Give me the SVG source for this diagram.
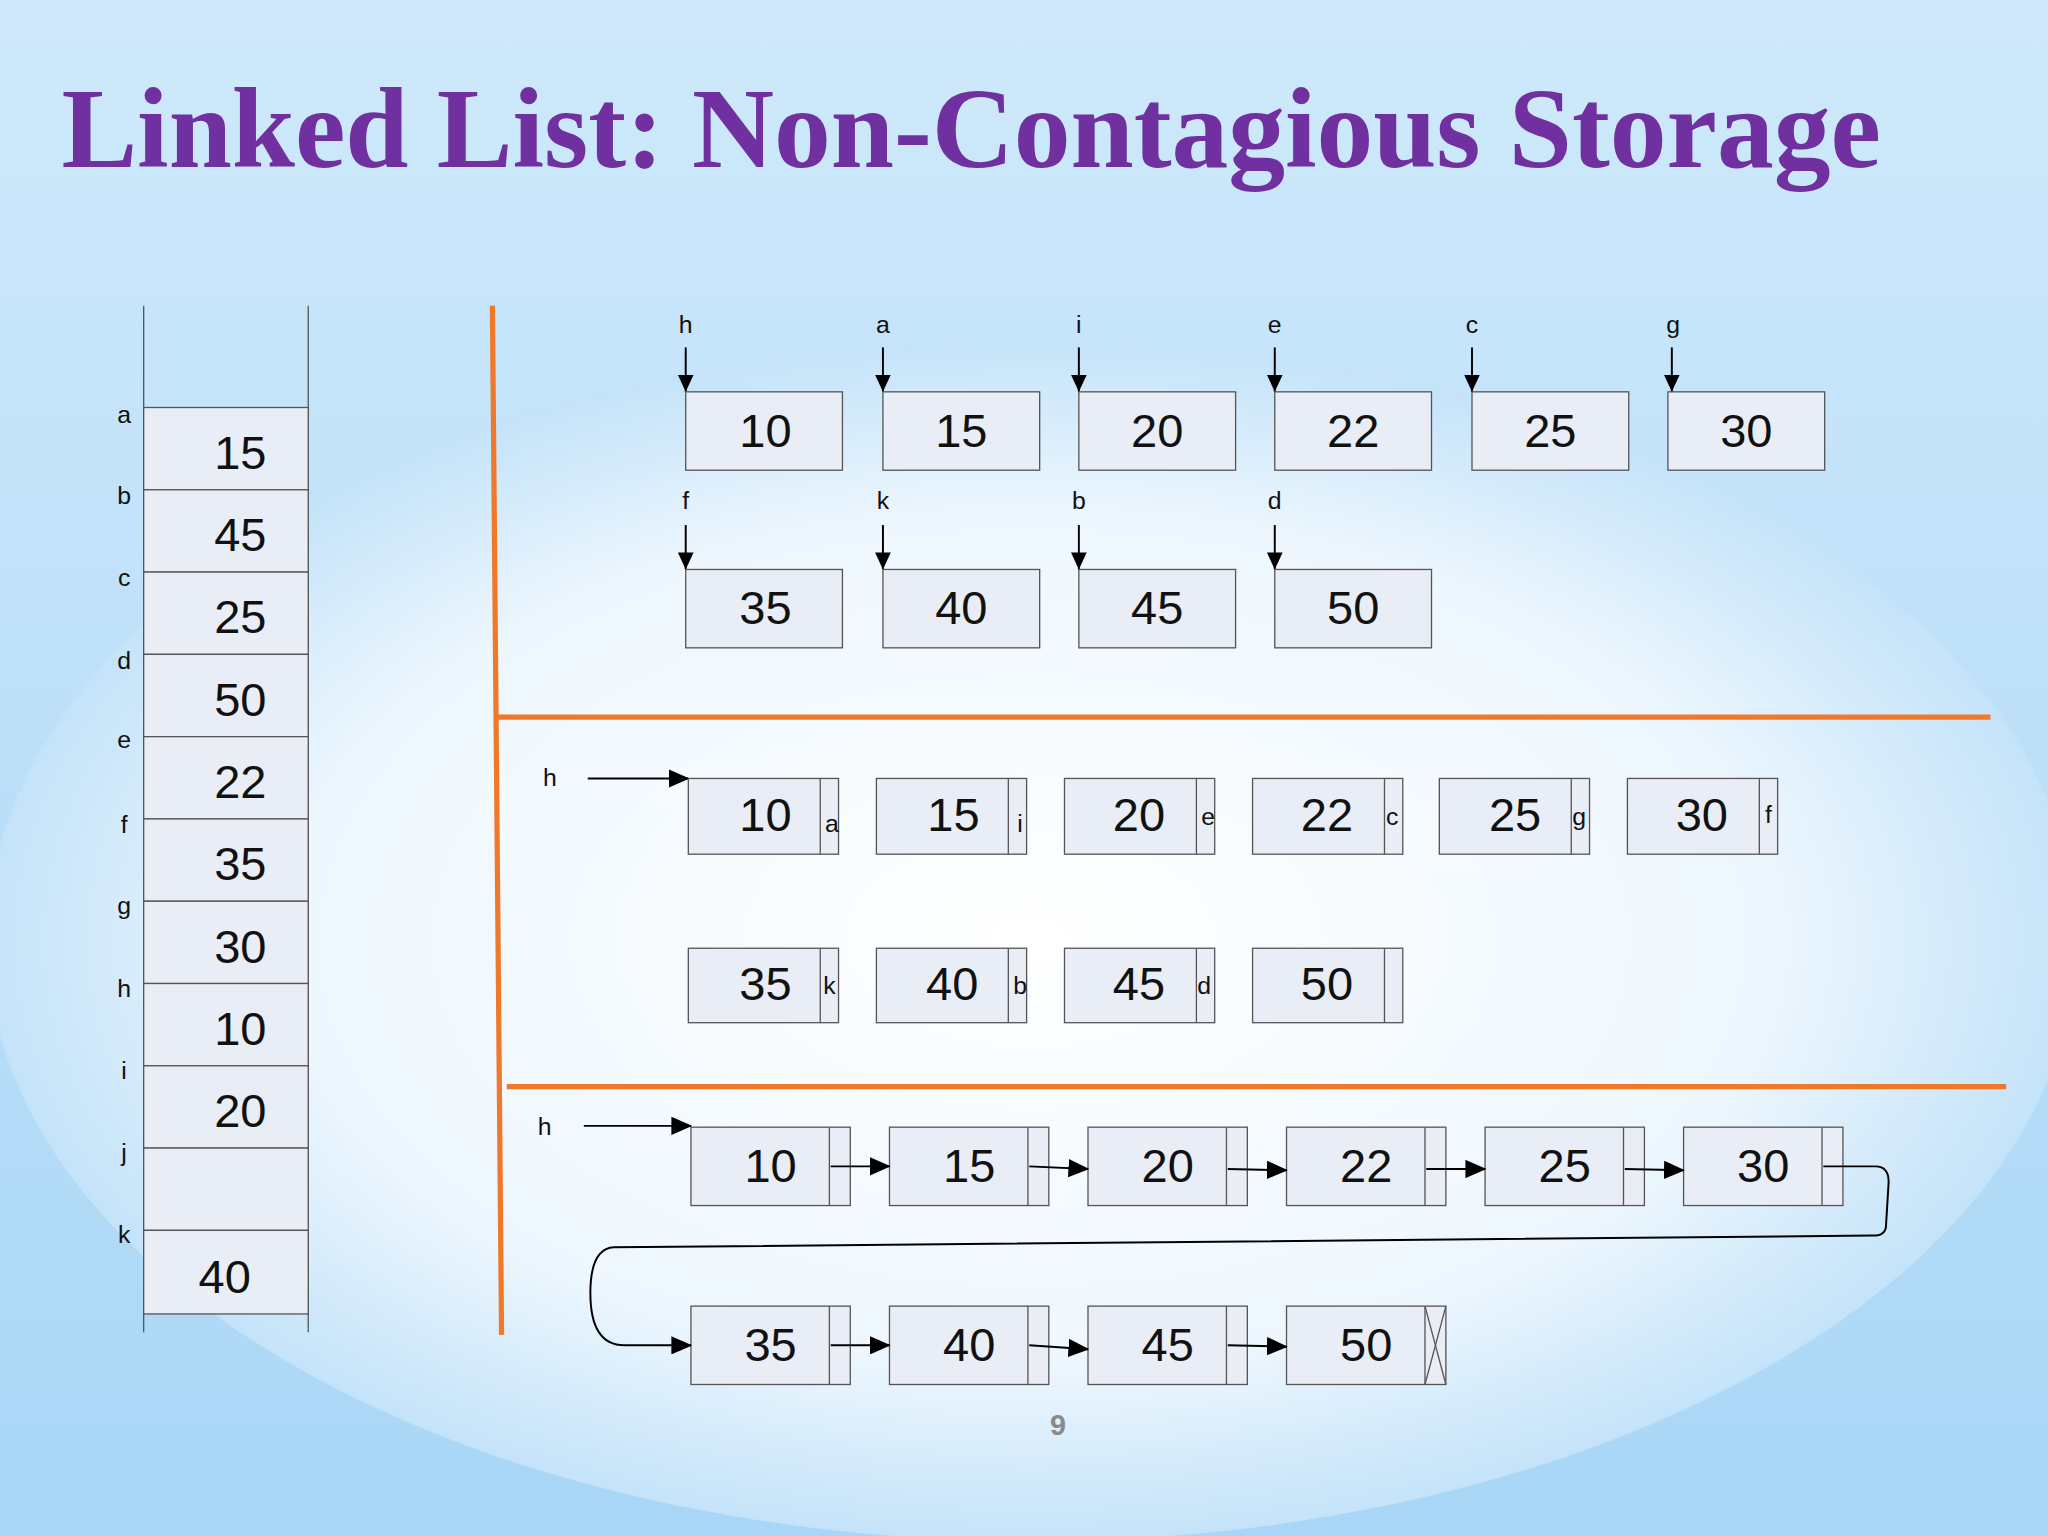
<svg xmlns="http://www.w3.org/2000/svg" width="2048" height="1536" viewBox="0 0 2048 1536">
<defs>
<linearGradient id="bg" x1="0" y1="0" x2="0" y2="1"><stop offset="0" stop-color="#cfe9fb"/><stop offset="1" stop-color="#a9d6f6"/></linearGradient>
<radialGradient id="gl" cx="0.5" cy="0.5" r="0.5"><stop offset="0" stop-color="#ffffff"/><stop offset="0.7" stop-color="#eef7fe"/><stop offset="1" stop-color="#c4e3f9"/></radialGradient>
<marker id="ah" markerWidth="14" markerHeight="14" refX="13" refY="6" orient="auto" markerUnits="userSpaceOnUse"><path d="M0,0 L13,6 L0,12 z" fill="#000"/></marker>
<marker id="ab" markerWidth="16" markerHeight="14" refX="15" refY="7" orient="auto" markerUnits="userSpaceOnUse"><path d="M0,0 L16,7 L0,14 z" fill="#000"/></marker>
<style>
.c{fill:#e9edf5;stroke:#555;stroke-width:1}
.v{font-family:"Liberation Sans",Arial,sans-serif;font-size:36px;fill:#111;text-anchor:middle}
.s{font-family:"Liberation Sans",Arial,sans-serif;font-size:19px;fill:#111;text-anchor:middle}
.o{stroke:#f0782a;stroke-width:4;fill:none}
.w{stroke:#000;stroke-width:1.5;fill:none}
</style>
</defs>
<rect width="2048" height="1536" fill="url(#bg)"/>
<g transform="scale(1.30612)">
<ellipse cx="790" cy="720" rx="800" ry="460" fill="url(#gl)"/>
<text x="47" y="128" font-family="Liberation Serif,serif" font-weight="bold" font-size="87" textLength="1393" fill="#7030a0">Linked List: Non-Contagious Storage</text>
<g id="memory">
<line x1="110" y1="234" x2="110" y2="1020" stroke="#555"/><line x1="236" y1="234" x2="236" y2="1020" stroke="#555"/>
<rect class="c" x="110" y="312" width="126" height="63"/><rect class="c" x="110" y="375" width="126" height="63"/><rect class="c" x="110" y="438" width="126" height="63"/><rect class="c" x="110" y="501" width="126" height="63"/><rect class="c" x="110" y="564" width="126" height="63"/><rect class="c" x="110" y="627" width="126" height="63"/><rect class="c" x="110" y="690" width="126" height="63"/><rect class="c" x="110" y="753" width="126" height="63"/><rect class="c" x="110" y="816" width="126" height="63"/><rect class="c" x="110" y="879" width="126" height="63"/><rect class="c" x="110" y="942" width="126" height="64"/>
<g class="s"><text x="95" y="324">a</text><text x="95" y="386">b</text><text x="95" y="449">c</text><text x="95" y="512">d</text><text x="95" y="573">e</text><text x="95" y="638">f</text><text x="95" y="700">g</text><text x="95" y="763">h</text><text x="95" y="826">i</text><text x="95" y="889">j</text><text x="95" y="952">k</text></g>
<g class="v"><text x="184" y="359">15</text><text x="184" y="422">45</text><text x="184" y="485">25</text><text x="184" y="548">50</text><text x="184" y="611">22</text><text x="184" y="674">35</text><text x="184" y="737">30</text><text x="184" y="800">10</text><text x="184" y="863">20</text><text x="172" y="990">40</text></g>
</g>
<g id="dividers"><line class="o" x1="377" y1="234" x2="384" y2="1022"/><line class="o" x1="380" y1="549" x2="1524" y2="549"/><line class="o" x1="388" y1="832" x2="1536" y2="832"/></g>
<g id="sec1">
<g class="s"><text x="525" y="255">h</text><text x="676" y="255">a</text><text x="826" y="255">i</text><text x="976" y="255">e</text><text x="1127" y="255">c</text><text x="1281" y="255">g</text><text x="525" y="390">f</text><text x="676" y="390">k</text><text x="826" y="390">b</text><text x="976" y="390">d</text></g>
<g class="w" marker-end="url(#ah)"><line x1="525" y1="266" x2="525" y2="300"/><line x1="676" y1="266" x2="676" y2="300"/><line x1="826" y1="266" x2="826" y2="300"/><line x1="976" y1="266" x2="976" y2="300"/><line x1="1127" y1="266" x2="1127" y2="300"/><line x1="1280" y1="266" x2="1280" y2="300"/><line x1="525" y1="402" x2="525" y2="436"/><line x1="676" y1="402" x2="676" y2="436"/><line x1="826" y1="402" x2="826" y2="436"/><line x1="976" y1="402" x2="976" y2="436"/></g>
<rect class="c" x="525" y="300" width="120" height="60"/><rect class="c" x="676" y="300" width="120" height="60"/><rect class="c" x="826" y="300" width="120" height="60"/><rect class="c" x="976" y="300" width="120" height="60"/><rect class="c" x="1127" y="300" width="120" height="60"/><rect class="c" x="1277" y="300" width="120" height="60"/>
<rect class="c" x="525" y="436" width="120" height="60"/><rect class="c" x="676" y="436" width="120" height="60"/><rect class="c" x="826" y="436" width="120" height="60"/><rect class="c" x="976" y="436" width="120" height="60"/>
<g class="v"><text x="586" y="342">10</text><text x="736" y="342">15</text><text x="886" y="342">20</text><text x="1036" y="342">22</text><text x="1187" y="342">25</text><text x="1337" y="342">30</text><text x="586" y="478">35</text><text x="736" y="478">40</text><text x="886" y="478">45</text><text x="1036" y="478">50</text></g>
</g>
<g id="sec2">
<text class="s" x="421" y="602">h</text><line class="w" x1="450" y1="596" x2="527" y2="596" marker-end="url(#ab)"/>
<g id="n2"><rect class="c" x="527" y="596" width="115" height="58"/><rect class="c" x="671" y="596" width="115" height="58"/><rect class="c" x="815" y="596" width="115" height="58"/><rect class="c" x="959" y="596" width="115" height="58"/><rect class="c" x="1102" y="596" width="115" height="58"/><rect class="c" x="1246" y="596" width="115" height="58"/>
<rect class="c" x="527" y="726" width="115" height="57"/><rect class="c" x="671" y="726" width="115" height="57"/><rect class="c" x="815" y="726" width="115" height="57"/><rect class="c" x="959" y="726" width="115" height="57"/></g>
<g stroke="#555"><line x1="628" y1="596" x2="628" y2="654"/><line x1="772" y1="596" x2="772" y2="654"/><line x1="916" y1="596" x2="916" y2="654"/><line x1="1060" y1="596" x2="1060" y2="654"/><line x1="1203" y1="596" x2="1203" y2="654"/><line x1="1347" y1="596" x2="1347" y2="654"/><line x1="628" y1="726" x2="628" y2="783"/><line x1="772" y1="726" x2="772" y2="783"/><line x1="916" y1="726" x2="916" y2="783"/><line x1="1060" y1="726" x2="1060" y2="783"/></g>
<g class="v"><text x="586" y="636">10</text><text x="730" y="636">15</text><text x="872" y="636">20</text><text x="1016" y="636">22</text><text x="1160" y="636">25</text><text x="1303" y="636">30</text><text x="586" y="766">35</text><text x="729" y="766">40</text><text x="872" y="766">45</text><text x="1016" y="766">50</text></g>
<g class="s" font-size="17"><text x="637" y="637">a</text><text x="781" y="637">i</text><text x="925" y="632">e</text><text x="1066" y="632">c</text><text x="1209" y="632">g</text><text x="1354" y="630">f</text><text x="635" y="761">k</text><text x="781" y="761">b</text><text x="922" y="761">d</text></g>
</g>
<g id="sec3">
<text class="s" x="417" y="869">h</text>
<rect class="c" x="529" y="863" width="122" height="60"/><rect class="c" x="681" y="863" width="122" height="60"/><rect class="c" x="833" y="863" width="122" height="60"/><rect class="c" x="985" y="863" width="122" height="60"/><rect class="c" x="1137" y="863" width="122" height="60"/><rect class="c" x="1289" y="863" width="122" height="60"/>
<rect class="c" x="529" y="1000" width="122" height="60"/><rect class="c" x="681" y="1000" width="122" height="60"/><rect class="c" x="833" y="1000" width="122" height="60"/><rect class="c" x="985" y="1000" width="122" height="60"/>
<g stroke="#555"><line x1="635" y1="863" x2="635" y2="923"/><line x1="787" y1="863" x2="787" y2="923"/><line x1="939" y1="863" x2="939" y2="923"/><line x1="1091" y1="863" x2="1091" y2="923"/><line x1="1243" y1="863" x2="1243" y2="923"/><line x1="1395" y1="863" x2="1395" y2="923"/><line x1="635" y1="1000" x2="635" y2="1060"/><line x1="787" y1="1000" x2="787" y2="1060"/><line x1="939" y1="1000" x2="939" y2="1060"/><line x1="1091" y1="1000" x2="1091" y2="1060"/><line x1="1091" y1="1000" x2="1107" y2="1060"/><line x1="1107" y1="1000" x2="1091" y2="1060"/></g>
<g class="v"><text x="590" y="905">10</text><text x="742" y="905">15</text><text x="894" y="905">20</text><text x="1046" y="905">22</text><text x="1198" y="905">25</text><text x="1350" y="905">30</text><text x="590" y="1042">35</text><text x="742" y="1042">40</text><text x="894" y="1042">45</text><text x="1046" y="1042">50</text></g>
</g>
<g id="connectors" class="w" marker-end="url(#ab)">
<line x1="447" y1="862" x2="529" y2="862"/>
<line x1="636" y1="893" x2="681" y2="893"/><line x1="788" y1="893" x2="833" y2="895"/><line x1="940" y1="895" x2="985" y2="896"/><line x1="1092" y1="895" x2="1137" y2="895"/><line x1="1244" y1="895" x2="1289" y2="896"/>
<line x1="636" y1="1030" x2="681" y2="1030"/><line x1="788" y1="1030" x2="833" y2="1033"/><line x1="940" y1="1030" x2="985" y2="1031"/>
<path d="M1396,893 L1436,893 Q1446,893 1446,905 L1444,938 Q1444,946 1434,946 L470,955 Q452,956 452,990 Q452,1030 478,1030 L529,1030"/>
</g>
<text x="810" y="1099" font-family="Liberation Sans,sans-serif" font-weight="bold" font-size="22" fill="#8a8a8a" text-anchor="middle">9</text>
</g>
</svg>
